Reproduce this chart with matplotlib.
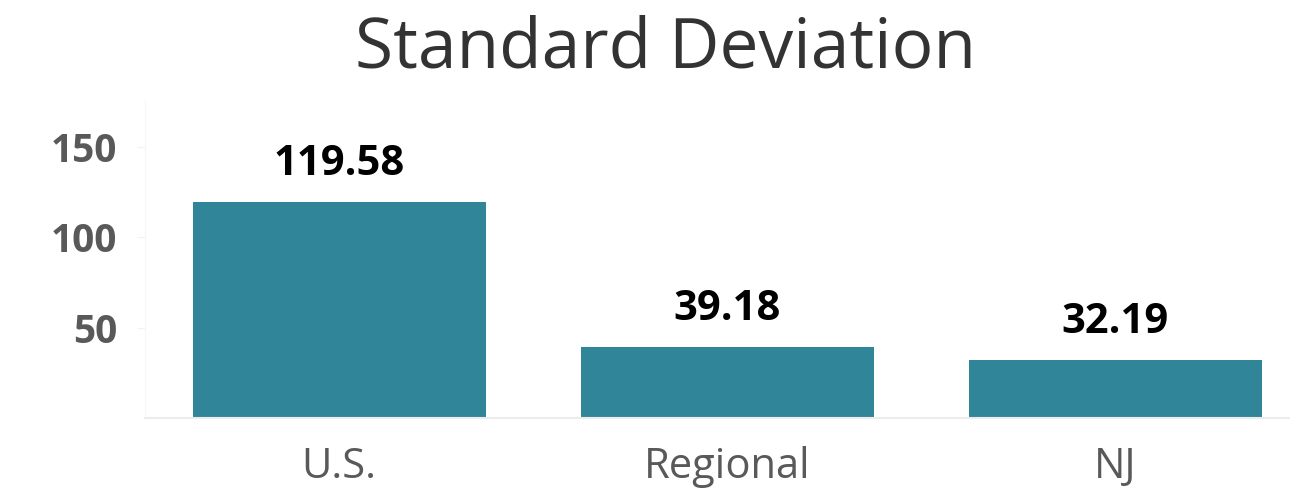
import matplotlib.pyplot as plt

plt.rcParams["font.family"] = ["Open Sans", "DejaVu Sans"]

categories = ["U.S.", "Regional", "NJ"]
values = [119.58, 39.18, 32.19]
yticks = [50, 100, 150]

bar_color = "#318598"
grey = "#595959"

fig = plt.figure(figsize=(12.9, 4.97), dpi=100)
ax = fig.add_axes([0.1124, 0.159, 0.8876, 0.64])

x = range(len(categories))
bars = ax.bar(x, values, width=0.755, color=bar_color)

for b, v in zip(bars, values):
    ax.annotate(f"{v:.2f}", (b.get_x() + b.get_width() / 2, v),
                xytext=(0, 27), textcoords="offset points",
                ha="center", va="center", fontsize=30, fontweight="bold",
                color="black")

ax.set_xlim(-0.5, 2.45)
ax.set_ylim(0, 176)
ax.set_xticks(list(x))
ax.set_xticklabels(categories, fontsize=30, color=grey)
ax.set_yticks(yticks)
ax.set_yticklabels([str(t) for t in yticks], fontsize=28, fontweight="bold", color=grey)
ax.tick_params(axis="x", length=0, pad=20)
ax.tick_params(axis="y", length=6, color="#f2f2f2", pad=14)

for s in ["top", "right"]:
    ax.spines[s].set_visible(False)
ax.spines["left"].set_color("#f7f7f7")
ax.spines["bottom"].set_color("#ececec")
ax.spines["bottom"].set_linewidth(1.5)

fig.text(0.516, 0.90, "Standard Deviation", ha="center", va="center",
         fontsize=50, color="#333333")

fig.savefig("out.png", dpi=100)
